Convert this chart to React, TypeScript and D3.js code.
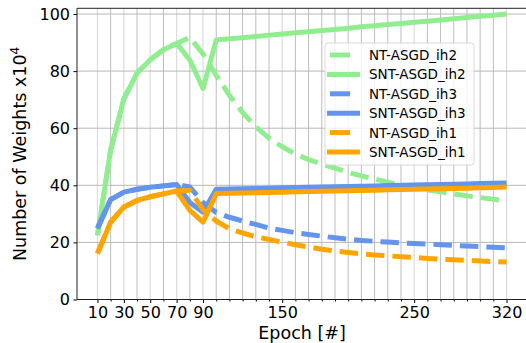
import React, { useRef, useEffect } from 'react';
import * as d3 from 'd3';

const epochs = [10, 20, 30, 40, 50, 60, 70, 80, 90, 100, 110, 120, 130, 140, 150, 160,
  170, 180, 190, 200, 210, 220, 230, 240, 250, 260, 270, 280, 290, 300, 310, 320];

const xTicks = [10, 30, 50, 70, 90, 150, 250, 320];
const yTicks = [0, 20, 40, 60, 80, 100];

const ntIh2 = [22.5, 52.3, 70.3, 79.3, 84, 87.5, 89.7, 91.8, 86, 78.5, 71.5, 65.5, 60.5, 56.5, 53.5, 51,
  49, 47.5, 46, 44.5, 43.3, 42.2, 41.1, 40, 39.2, 38.4, 37.7, 37, 36.3, 35.7, 35.1, 34.5];
const sntIh2 = [22.5, 52.3, 70.3, 79.3, 84, 87.5, 89.7, 83.9, 73.9, 90.9, 91.3, 91.7, 92.1, 92.6, 93.0, 93.4,
  93.8, 94.2, 94.6, 95.0, 95.5, 95.9, 96.3, 96.7, 97.1, 97.5, 97.9, 98.3, 98.8, 99.2, 99.6, 100.0];
const ntIh3 = [24.9, 35, 37.6, 38.6, 39.3, 39.8, 40.3, 39.4, 34, 30.5, 28.8, 27.5, 26.3, 25, 24.2, 23.4,
  22.8, 22.2, 21.6, 21.1, 20.7, 20.4, 20.1, 19.8, 19.6, 19.4, 19.2, 19.0, 18.7, 18.5, 18.3, 18.1];
const sntIh3 = [24.9, 35, 37.6, 38.6, 39.3, 39.8, 40.3, 34, 30.6, 38.6, 38.7, 38.8, 38.9, 39.0, 39.1, 39.2,
  39.3, 39.4, 39.5, 39.6, 39.7, 39.8, 39.9, 40.0, 40.1, 40.2, 40.3, 40.4, 40.5, 40.6, 40.7, 40.8];
const ntIh1 = [16.1, 27.1, 32.4, 34.7, 36, 37, 38, 38.2, 31.5, 27.5, 24.8, 23.3, 22, 21, 20.1, 19.2,
  18.4, 17.6, 17.0, 16.5, 16.0, 15.6, 15.3, 15.0, 14.7, 14.4, 14.1, 13.9, 13.7, 13.5, 13.3, 13.1];
const sntIh1 = [16.1, 27.1, 32.4, 34.7, 36, 37, 38, 31.2, 27.1, 37.1, 37.2, 37.3, 37.4, 37.5, 37.6, 37.7,
  37.8, 37.9, 38.0, 38.1, 38.2, 38.3, 38.4, 38.5, 38.6, 38.7, 38.8, 38.9, 39.0, 39.1, 39.2, 39.4];

const series = [
  { name: 'NT-ASGD_ih2', values: ntIh2, color: '#90ee90', dashed: true },
  { name: 'SNT-ASGD_ih2', values: sntIh2, color: '#90ee90', dashed: false },
  { name: 'NT-ASGD_ih3', values: ntIh3, color: '#6495ed', dashed: true },
  { name: 'SNT-ASGD_ih3', values: sntIh3, color: '#6495ed', dashed: false },
  { name: 'NT-ASGD_ih1', values: ntIh1, color: '#ffa500', dashed: true },
  { name: 'SNT-ASGD_ih1', values: sntIh1, color: '#ffa500', dashed: false },
];

export default function App() {
  const svgRef = useRef<SVGSVGElement>(null);

  useEffect(() => {
    const width = 526;
    const height = 343;
    const left = 77, right = 527, top = 8.3, bottom = 299.5;
    const font = 'DejaVu Sans, sans-serif';

    const x = d3.scaleLinear().domain([-5.5, 335.5]).range([left, right]);
    const y = d3.scaleLinear().domain([0, 102]).range([bottom, top]);

    const svg = d3.select(svgRef.current);
    svg.selectAll('*').remove();
    svg.attr('width', width).attr('height', height);

    svg.append('rect').attr('width', width).attr('height', height).attr('fill', 'white');

    // grid
    const minor = epochs.filter(e => !xTicks.includes(e));
    svg.append('g').selectAll('line').data(minor).join('line')
      .attr('x1', d => x(d)).attr('x2', d => x(d)).attr('y1', top).attr('y2', bottom)
      .attr('stroke', '#bdbdbd').attr('stroke-width', 1);
    svg.append('g').selectAll('line').data(xTicks).join('line')
      .attr('x1', d => x(d)).attr('x2', d => x(d)).attr('y1', top).attr('y2', bottom)
      .attr('stroke', '#dcdcdc').attr('stroke-width', 1.2);
    svg.append('g').selectAll('line').data(yTicks.slice(1)).join('line')
      .attr('x1', left).attr('x2', right).attr('y1', d => y(d)).attr('y2', d => y(d))
      .attr('stroke', '#b8b8b8').attr('stroke-width', 1);

    // lines
    const line = d3.line<number>().x((_, i) => x(epochs[i])).y(d => y(d));
    series.forEach(s => {
      svg.append('path')
        .attr('d', line(s.values))
        .attr('fill', 'none')
        .attr('stroke', s.color)
        .attr('stroke-width', 5)
        .attr('stroke-linejoin', 'round')
        .attr('stroke-dasharray', s.dashed ? '18.5,8' : null);
    });

    // axes
    const xAxis = svg.append('g')
      .attr('transform', `translate(0,${bottom})`)
      .call(d3.axisBottom(x).tickValues(xTicks).tickSize(3.5).tickPadding(3.5).tickFormat(d3.format('d')));
    xAxis.select('.domain').remove();
    xAxis.selectAll('text').attr('font-size', 16).attr('font-family', font).attr('fill', '#000');
    svg.append('g')
      .attr('transform', `translate(0,${bottom})`)
      .call(d3.axisBottom(x).tickValues(minor).tickSize(2).tickFormat(() => ''))
      .call(g => g.select('.domain').remove());

    const yAxis = svg.append('g')
      .attr('transform', `translate(${left},0)`)
      .call(d3.axisLeft(y).tickValues(yTicks).tickSize(3.5).tickPadding(3.5));
    yAxis.select('.domain').remove();
    yAxis.selectAll('text').attr('font-size', 16).attr('font-family', font).attr('fill', '#000');

    // spines
    svg.append('path')
      .attr('d', `M${right},${top}H${left}V${bottom}H${right}`)
      .attr('fill', 'none').attr('stroke', '#222').attr('stroke-width', 1);

    // labels
    svg.append('text')
      .attr('x', (left + right) / 2).attr('y', 339)
      .attr('text-anchor', 'middle').attr('font-size', 17.5).attr('font-family', font)
      .text('Epoch [#]');
    const yl = svg.append('text')
      .attr('transform', `translate(26,${(top + bottom) / 2}) rotate(-90)`)
      .attr('text-anchor', 'middle').attr('font-size', 17.5).attr('font-family', font);
    yl.append('tspan').text('Number of Weights x10');
    yl.append('tspan').attr('dy', -7).attr('font-size', 12).text('4');

    // legend
    const lg = svg.append('g').attr('transform', 'translate(325,43)');
    lg.append('rect').attr('width', 149).attr('height', 122).attr('rx', 3)
      .attr('fill', 'white').attr('fill-opacity', 0.8).attr('stroke', '#d8d8d8');
    series.forEach((s, i) => {
      const cy = 12 + i * 19.4;
      lg.append('line')
        .attr('x1', s.dashed ? 5 : 2).attr('x2', s.dashed ? 25 : 35)
        .attr('y1', cy).attr('y2', cy)
        .attr('stroke', s.color).attr('stroke-width', 5);
      lg.append('text').attr('x', 44).attr('y', cy + 5)
        .attr('font-size', 13.5).attr('font-family', font).text(s.name);
    });
  }, []);

  return (
    <div style={{ position: 'absolute', left: 0, top: 0 }}>
      <svg ref={svgRef}></svg>
    </div>
  );
}
